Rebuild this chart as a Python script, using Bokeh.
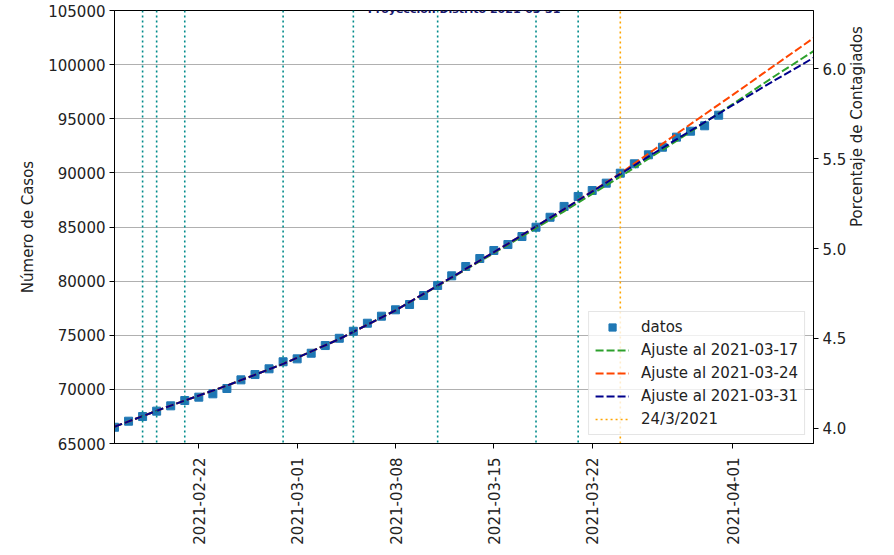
import math
import pandas as pd
from bokeh.plotting import figure
from bokeh.models import (Range1d, LinearAxis, FixedTicker, Span, BasicTickFormatter,
                          DatetimeTickFormatter, Label, NumeralTickFormatter)
from bokeh.embed import file_html
from bokeh.resources import INLINE

# ---------------- data ----------------
title_text = "Proyección Distrito 2021-03-31"
start_date = "2021-02-16"
casos = [66500, 67060, 67490, 67990, 68480, 68970, 69280, 69590, 70080, 70880,
         71370, 71900, 72550, 72820, 73340, 74050, 74720, 75370, 76110, 76760,
         77350, 77840, 78670, 79600, 80490, 81350, 82090, 82830, 83380, 84120,
         84980, 85900, 86900, 87820, 88370, 89050, 89970, 90840, 91670, 92370,
         93300, 93850, 94350, 95330]

fit_dates = ["2021-02-16", "2021-02-20", "2021-02-24", "2021-02-28", "2021-03-04",
             "2021-03-08", "2021-03-12", "2021-03-16", "2021-03-20", "2021-03-24",
             "2021-03-28", "2021-04-01", "2021-04-04", "2021-04-06 18:00"]
fit_0317 = [66550, 68500, 70350, 72350, 74650, 77300, 80300, 83350, 86450, 89650,
            92950, 96350, 98950, 101240]
fit_0324 = [66550, 68500, 70350, 72350, 74650, 77300, 80350, 83450, 86650, 89950,
            93600, 97200, 99950, 102450]
fit_0331 = [66550, 68500, 70350, 72350, 74650, 77300, 80350, 83450, 86650, 89900,
            93100, 96250, 98560, 100630]

event_dates = ["2021-02-18", "2021-02-19", "2021-02-21", "2021-02-28",
               "2021-03-05", "2021-03-11", "2021-03-18", "2021-03-21"]
ref_date = "2021-03-24"
ref_label = "24/3/2021"

x_ticks = ["2021-02-22", "2021-03-01", "2021-03-08", "2021-03-15", "2021-03-22", "2021-04-01"]
x_start, x_end = "2021-02-16", "2021-04-06 18:00"
y_ticks = [65000, 70000, 75000, 80000, 85000, 90000, 95000, 100000, 105000]
y_start, y_end = 65000, 105000
pct_ticks = [4.0, 4.5, 5.0, 5.5, 6.0]
poblacion = 1660000
left_label = "Número de Casos"
right_label = "Porcentaje de Contagiados"

FONT = "DejaVu Sans"
FS = "15px"


def ms(s):
    return pd.Timestamp(s).value / 1e6


fechas = [ms(d) for d in pd.date_range(start_date, periods=len(casos), freq="D")]
fit_x = [ms(d) for d in fit_dates]

p = figure(width=878, height=547, output_backend="svg", toolbar_location=None,
           x_axis_type="datetime",
           x_range=Range1d(ms(x_start), ms(x_end)),
           y_range=Range1d(y_start, y_end),
           min_border_left=114, min_border_right=52, min_border_top=10, min_border_bottom=104)
p.background_fill_color = "white"
p.border_fill_color = "white"
p.outline_line_color = "black"
p.outline_line_alpha = 1
p.outline_line_width = 1

for d in event_dates:
    p.add_layout(Span(location=ms(d), dimension="height", line_color="darkcyan",
                      line_dash="2 3", line_width=1.6))

p.scatter(fechas, casos, marker="square", size=8, color="#1f77b4", legend_label="datos")
p.line(fit_x, fit_0317, line_color="#2ca02c", line_dash="8 3", line_width=2,
       legend_label="Ajuste al 2021-03-17")
p.line(fit_x, fit_0324, line_color="orangered", line_dash="8 3", line_width=2,
       legend_label="Ajuste al 2021-03-24")
p.line(fit_x, fit_0331, line_color="darkblue", line_dash="8 3", line_width=2,
       legend_label="Ajuste al 2021-03-31")
p.segment(x0=[ms(ref_date)], y0=[y_start], x1=[ms(ref_date)], y1=[y_end],
          line_color="orange", line_dash="2 3", line_width=1.6, legend_label=ref_label)

fmt = "%Y-%m-%d"
p.xaxis.ticker = FixedTicker(ticks=[ms(t) for t in x_ticks])
p.xaxis.formatter = DatetimeTickFormatter(microseconds=fmt, milliseconds=fmt, seconds=fmt,
                                          minsec=fmt, minutes=fmt, hourmin=fmt, hours=fmt,
                                          days=fmt, months=fmt, years=fmt)
p.xaxis.major_label_orientation = math.pi / 2
p.xaxis.major_label_standoff = 9

yt = FixedTicker(ticks=y_ticks)
p.yaxis.ticker = yt
p.ygrid.ticker = yt
p.yaxis.formatter = BasicTickFormatter(use_scientific=False)
p.yaxis.axis_label = left_label
p.yaxis.major_label_standoff = 4
p.yaxis.axis_label_standoff = 8

p.extra_y_ranges = {"pct": Range1d(y_start / poblacion * 100, y_end / poblacion * 100)}
ax_r = LinearAxis(y_range_name="pct", axis_label=right_label,
                  ticker=FixedTicker(ticks=pct_ticks),
                  formatter=NumeralTickFormatter(format="0.0"))
p.add_layout(ax_r, "right")
ax_r.major_label_standoff = 4
ax_r.axis_label_standoff = 8
if "axis_label_orientation" in LinearAxis.properties():
    ax_r.axis_label_orientation = math.pi / 2

for ax in [p.xaxis[0], p.yaxis[0], ax_r]:
    ax.major_tick_in = 0
    ax.major_tick_out = 5
    ax.minor_tick_in = 0
    ax.minor_tick_out = 0
    ax.axis_line_color = "black"
    ax.major_tick_line_color = "black"
    ax.major_label_text_font = FONT
    ax.major_label_text_font_size = FS
    ax.major_label_text_color = "#222222"
    ax.axis_label_text_font = FONT
    ax.axis_label_text_font_size = FS
    ax.axis_label_text_font_style = "normal"
    ax.axis_label_text_color = "#222222"

p.xgrid.visible = False
p.ygrid.grid_line_color = "#b0b0b0"
p.ygrid.grid_line_width = 1

p.add_layout(Label(x=(ms(x_start) + ms(x_end)) / 2, y=y_end, y_offset=1, text=title_text,
                   text_align="center", text_baseline="alphabetic",
                   text_font=FONT, text_font_size="11px", text_font_style="bold",
                   text_color="#191970"))

lg = p.legend[0]
lg.location = "bottom_right"
lg.margin = 8
lg.padding = 6
lg.spacing = 5
lg.glyph_width = 34
lg.glyph_height = 18
lg.label_height = 18
lg.label_standoff = 12
lg.label_text_font = FONT
lg.label_text_font_size = FS
lg.label_text_color = "#222222"
lg.border_line_color = "#cccccc"
lg.border_line_width = 1
lg.background_fill_alpha = 0.8

open("out.html", "w").write(file_html(p, INLINE))
